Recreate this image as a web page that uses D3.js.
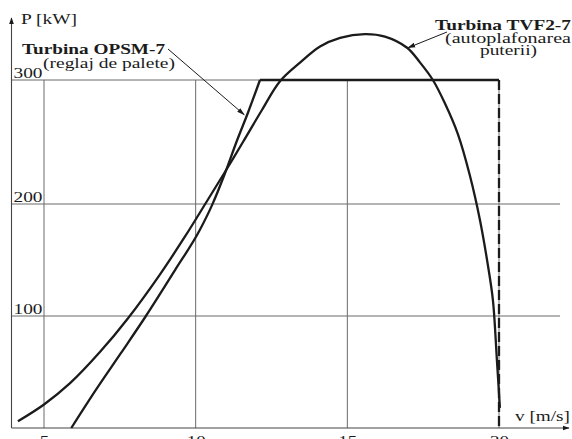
<!DOCTYPE html>
<html>
<head>
<meta charset="utf-8">
<script src="https://cdn.jsdelivr.net/npm/d3@7"></script>
<style>
	html, body { margin: 0; padding: 0; background: #fff; }
	svg { display: block; }
</style>
</head>
<body>
<div id="chart"></div>
<script>
// axis ticks
const speedTicks = [5, 10, 15, 20];
const powerTicks = [100, 200, 300];
const ratedPower = 300;
const cutOutSpeed = 20;

// Turbina OPSM-7 (reglaj de palete) - rising branch up to rated power
const opsmSpeed = [5.9, 6.71, 7.54, 8.36, 9.32, 10.14, 10.54, 10.97, 11.36, 11.73, 12.12];
const opsmPower = [0, 34, 67, 100, 141, 177, 199, 225, 251, 274, 300];

// Turbina TVF2-7 (autoplafonarea puterii)
const tvfSpeed = [4.14, 5.0, 5.86, 6.85, 7.77, 8.82, 9.65, 10.34, 10.97, 11.56, 12.19, 12.78, 13.44, 14.1, 14.76, 15.58, 16.24, 16.97, 17.4, 17.82, 18.22, 18.65, 19.04, 19.37, 19.63, 19.8, 19.93, 20.03];
const tvfPower = [6, 21, 40, 68, 98, 137, 171, 201, 226, 250, 276, 299, 314, 327, 334, 337, 335, 326, 314, 300, 281, 256, 223, 186, 146, 114, 61, 18];

const width = 572;
const height = 439;
const axisX = 11.5;
const axisY = 428;
const axisTop = 18;
const axisEnd = 569;
const gridRight = 560;
const font = "'Liberation Serif', 'Times New Roman', serif";
const ink = "#1b1b1b";
const gridColor = "#6a6a6a";

const x = d3.scaleLinear().domain([5, 20]).range([44, 499]);
// the scanned grid is slightly uneven, so the power scale is piecewise
const y = d3.scaleLinear().domain([0, 100, 200, 300]).range([axisY, 316, 204, 80]);

const opsm = opsmSpeed.map((v, i) => ({ v, p: opsmPower[i] }));
const tvf = tvfSpeed.map((v, i) => ({ v, p: tvfPower[i] }));

const svg = d3.select("#chart")
	.append("svg")
	.attr("width", width)
	.attr("height", height)
	.attr("viewBox", `0 0 ${width} ${height}`);

const defs = svg.append("defs");
defs.append("marker")
	.attr("id", "axis-head")
	.attr("viewBox", "0 0 10 10")
	.attr("refX", 9).attr("refY", 5)
	.attr("markerWidth", 7).attr("markerHeight", 7)
	.attr("markerUnits", "userSpaceOnUse")
	.attr("orient", "auto")
	.append("path")
	.attr("d", "M0,1.5 L10,5 L0,8.5 Z")
	.attr("fill", ink);
defs.append("marker")
	.attr("id", "lead-head")
	.attr("viewBox", "0 0 10 10")
	.attr("refX", 9).attr("refY", 5)
	.attr("markerWidth", 8).attr("markerHeight", 8)
	.attr("markerUnits", "userSpaceOnUse")
	.attr("orient", "auto")
	.append("path")
	.attr("d", "M0,2 L10,5 L0,8 Z")
	.attr("fill", ink);

const root = svg.append("g");

// grid
root.append("g")
	.selectAll("line")
	.data(speedTicks)
	.join("line")
	.attr("x1", (d) => x(d)).attr("x2", (d) => x(d))
	.attr("y1", y(0)).attr("y2", y(ratedPower))
	.attr("stroke", gridColor)
	.attr("stroke-width", 1);

root.append("g")
	.selectAll("line")
	.data(powerTicks)
	.join("line")
	.attr("x1", axisX)
	.attr("x2", (d) => (d === ratedPower ? x(cutOutSpeed) : gridRight))
	.attr("y1", (d) => y(d)).attr("y2", (d) => y(d))
	.attr("stroke", gridColor)
	.attr("stroke-width", 1);

// axes with arrow heads
root.append("line")
	.attr("x1", axisX).attr("x2", axisEnd)
	.attr("y1", axisY).attr("y2", axisY)
	.attr("stroke", "#444").attr("stroke-width", 1.1)
	.attr("marker-end", "url(#axis-head)");
root.append("line")
	.attr("x1", axisX).attr("x2", axisX)
	.attr("y1", axisY).attr("y2", axisTop)
	.attr("stroke", "#444").attr("stroke-width", 1.1)
	.attr("marker-end", "url(#axis-head)");

const xAxis = root.append("g")
	.attr("transform", `translate(0, ${axisY})`)
	.call(d3.axisBottom(x).tickValues(speedTicks).tickSize(0).tickPadding(7))
	.call((g) => g.select(".domain").remove());
xAxis.selectAll("text")
	.attr("font-family", font)
	.attr("font-size", 15)
	.attr("fill", ink)
	.attr("textLength", (d) => String(d).length * 9.5)
	.attr("lengthAdjust", "spacingAndGlyphs");

root.append("g")
	.selectAll("text")
	.data(powerTicks)
	.join("text")
	.attr("x", axisX + 2)
	.attr("y", (d) => y(d) - 2)
	.attr("font-family", font)
	.attr("font-size", 15)
	.attr("fill", ink)
	.attr("textLength", 29)
	.attr("lengthAdjust", "spacingAndGlyphs")
	.text((d) => d);

// curves
const smooth = d3.line()
	.x((d) => x(d.v))
	.y((d) => y(d.p))
	.curve(d3.curveMonotoneX);
const bell = d3.line()
	.x((d) => x(d.v))
	.y((d) => y(d.p))
	.curve(d3.curveCatmullRom.alpha(0.5));
const straight = d3.line()
	.x((d) => x(d.v))
	.y((d) => y(d.p));

root.append("path")
	.attr("d", smooth(opsm))
	.attr("fill", "none")
	.attr("stroke", ink)
	.attr("stroke-width", 2.3);

root.append("path")
	.attr("d", straight([opsm.at(-1), { v: cutOutSpeed, p: ratedPower }]))
	.attr("fill", "none")
	.attr("stroke", ink)
	.attr("stroke-width", 2.3)
	.attr("stroke-linejoin", "round");

root.append("path")
	.attr("d", straight([{ v: cutOutSpeed, p: ratedPower }, { v: cutOutSpeed, p: 0 }]))
	.attr("fill", "none")
	.attr("stroke", ink)
	.attr("stroke-width", 2.3)
	.attr("stroke-dasharray", "10 4");

root.append("path")
	.attr("d", bell(tvf))
	.attr("fill", "none")
	.attr("stroke", ink)
	.attr("stroke-width", 2.3);

// labels
function addText(parent, { text, px, py, size, weight, length, anchor }) {
	return parent.append("text")
		.attr("x", px)
		.attr("y", py)
		.attr("font-family", font)
		.attr("font-size", size)
		.attr("font-weight", weight || "normal")
		.attr("text-anchor", anchor || "start")
		.attr("fill", ink)
		.attr("textLength", length)
		.attr("lengthAdjust", "spacingAndGlyphs")
		.text(text);
}

addText(root, { text: "P [kW]", px: 21, py: 24, size: 15, length: 56 });
addText(root, { text: "v [m/s]", px: 515, py: 421, size: 15, length: 55 });

addText(root, { text: "Turbina OPSM-7", px: 22, py: 54, size: 15, weight: "bold", length: 143 });
addText(root, { text: "(reglaj de palete)", px: 43, py: 68, size: 15, length: 132 });

addText(root, { text: "Turbina TVF2-7", px: 435, py: 30, size: 15, weight: "bold", length: 136 });
addText(root, { text: "(autoplafonarea", px: 445, py: 43, size: 15, length: 126 });
addText(root, { text: "puterii)", px: 480, py: 55, size: 15, length: 57 });

// leader arrows
root.append("line")
	.attr("x1", 168).attr("y1", 49)
	.attr("x2", x(11.6)).attr("y2", y(272))
	.attr("stroke", ink).attr("stroke-width", 1)
	.attr("marker-end", "url(#lead-head)");
root.append("line")
	.attr("x1", 447).attr("y1", 32)
	.attr("x2", x(17.0)).attr("y2", y(326))
	.attr("stroke", ink).attr("stroke-width", 1)
	.attr("marker-end", "url(#lead-head)");
</script>
</body>
</html>
